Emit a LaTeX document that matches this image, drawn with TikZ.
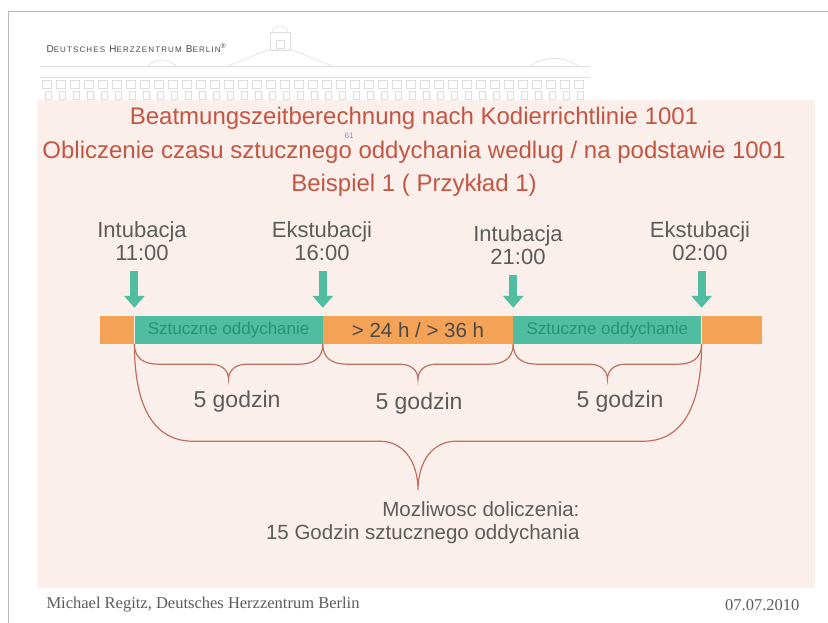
\documentclass[tikz,border=0pt]{standalone}
\usepackage{fontspec}
\setmainfont{Liberation Sans}
\newfontfamily\piedpage{Liberation Serif}
\newfontfamily\entete[LetterSpace=14]{Liberation Sans}
\usepackage{tikz}
\usetikzlibrary{calc}
\usetikzlibrary{arrows.meta,positioning}
\definecolor{rougetitre}{RGB}{194,86,66}
\definecolor{rougeaccolade}{RGB}{190,112,96}
\definecolor{turquoise}{RGB}{80,188,160}
\definecolor{turquoisefonce}{RGB}{36,148,120}
\definecolor{orangebarre}{RGB}{243,162,86}
\definecolor{rosefond}{RGB}{251,239,235}
\definecolor{gristexte}{RGB}{92,92,92}
\definecolor{grisbatiment}{RGB}{222,222,222}
% accolade sous la barre : #1,#2 extremites, #3 profondeur du trait, #4 profondeur de la pointe, #5 et #6 rayons
\newcommand{\Accolade}[6]{%
\coordinate (milieu) at ($(#1)!0.5!(#2)$);
\draw[accolade] (#1)
	.. controls +(0,{0.75*#3}) and +({-0.55*#5},0) .. ($(#1)+(#5,#3)$)
	-- ($(milieu)+({-#6},#3)$)
	.. controls +({0.6*#6},0) and +(0,{-0.6*(#4-#3)}) .. ($(milieu)+(0,#4)$)
	.. controls +(0,{-0.6*(#4-#3)}) and +({-0.6*#6},0) .. ($(milieu)+(#6,#3)$)
	-- ($(#2)+({-#5},#3)$)
	.. controls +({0.55*#5},0) and +(0,{0.75*#3}) .. (#2)}

\begin{document}
\begin{tikzpicture}[x=1pt,y=-1pt,
	titre/.style={text=rougetitre,font=\fontsize{24}{27}\selectfont},
	etiquette/.style={text=gristexte,align=center,inner sep=0pt,font=\fontsize{22}{23}\selectfont},
	respiration/.style={fill=turquoise,minimum height=28pt,inner sep=0pt,text=turquoisefonce,font=\fontsize{17}{18}\selectfont},
	pause/.style={fill=orangebarre,minimum height=28pt,inner sep=0pt,text=gristexte!80!black,font=\fontsize{20.5}{21}\selectfont},
	fleche/.style={draw=turquoise,line width=8pt,-{Triangle[width=20pt,length=12pt]},shorten <=10pt,shorten >=8pt},
	accolade/.style={draw=rougeaccolade,line width=1.2pt},
	duree/.style={text=gristexte,font=\fontsize{23}{25}\selectfont}]
\useasboundingbox (0,0) rectangle (828,623);
\fill[white] (0,0) rectangle (828,623);

%Cadre
\draw[gray!55,line width=1pt] (828,12) -- (8,12) -- (8,623);

%Batiment
\begin{scope}[grisbatiment,line width=0.6pt]
\draw (40,66) -- (590,66);
\draw (40,77) -- (590,77);
\foreach \x in {42,56,...,582} \draw (\x,80) rectangle ++(9,8);
\foreach \x in {45,59,...,585} \draw (\x,91) rectangle ++(6,8);
\draw (148,66) .. controls (155,58) and (168,58) .. (176,66);
\draw (228,66) -- (268,50) -- (292,50) -- (332,66);
\draw (270,50) rectangle (290,32);
\draw (272,32) .. controls (274,24) and (286,24) .. (288,32);
\draw (276,40) rectangle (284,48);
\draw (530,66) .. controls (545,56) and (565,56) .. (578,66);
\end{scope}

%Fond
\fill[rosefond] (37,100) rectangle (815,588);

%En-tete
\node[anchor=west,text=gristexte!80!black] (logo) at (43,48) {\entete\fontsize{10}{12}\selectfont D{\fontsize{8}{12}\selectfont EUTSCHES} H{\fontsize{8}{12}\selectfont ERZZENTRUM} B{\fontsize{8}{12}\selectfont ERLIN}\textsuperscript{®}};

%Titres
\node[titre] (t1) at (414,118) {Beatmungszeitberechnung nach Kodierrichtlinie 1001};
\node[titre] (t2) at (414,152) {Obliczenie czasu sztucznego oddychania wedlug / na podstawie 1001};
\node[titre] (t3) at (414,185) {Beispiel 1 ( Przykład 1)};
\node[text=gray!50!blue!60,font=\fontsize{8}{9}\selectfont,inner sep=0pt] (n61) at (349,136) {61};

%Barre
\node[pause,minimum width=34pt,anchor=west] (g) at (100,330) {};
\node[respiration,minimum width=188pt,right=0pt of g] (s1) {Sztuczne oddychanie};
\node[pause,minimum width=190pt,right=0pt of s1] (s2) {> 24 h / > 36 h};
\node[respiration,minimum width=188pt,right=0pt of s2] (s3) {Sztuczne oddychanie};
\node[pause,minimum width=60pt,right=0pt of s3] (d) {};

%Instants
\node[etiquette] (i1) at (142,241) {Intubacja\\11:00};
\node[etiquette] (e1) at (322,241) {Ekstubacji\\16:00};
\node[etiquette] (i2) at (518,245) {Intubacja\\21:00};
\node[etiquette] (e2) at (700,241) {Ekstubacji\\02:00};

%Fleches
\foreach \lab/\pt in {i1/s1.north west,e1/s1.north east,i2/s3.north west,e2/s3.north east}
	\draw[fleche] (\lab.south -| \pt) -- (\pt);

%Accolades
\Accolade{s1.south west}{s1.south east}{20}{35}{24}{18};
\Accolade{s2.south west}{s2.south east}{20}{35}{24}{18};
\Accolade{s3.south west}{s3.south east}{20}{35}{24}{18};
\Accolade{s1.south west}{s3.south east}{97}{146}{58}{38};

\node[duree] (h1) at (237,402) {5 godzin};
\node[duree] (h2) at (419,404) {5 godzin};
\node[duree] (h3) at (620,402) {5 godzin};

\node[text=gristexte,align=right,anchor=east,font=\fontsize{20.5}{23}\selectfont] (total) at (583,523) {Mozliwosc doliczenia:\\15 Godzin sztucznego oddychania};

%Pied de page
\node[anchor=west,text=gristexte,font=\piedpage\fontsize{16.5}{18}\selectfont] (auteur) at (43,605) {Michael Regitz, Deutsches Herzzentrum Berlin};
\node[anchor=east,text=gristexte,font=\piedpage\fontsize{16.5}{18}\selectfont] (date) at (803,605) {07.07.2010};

\end{tikzpicture}
\end{document}
